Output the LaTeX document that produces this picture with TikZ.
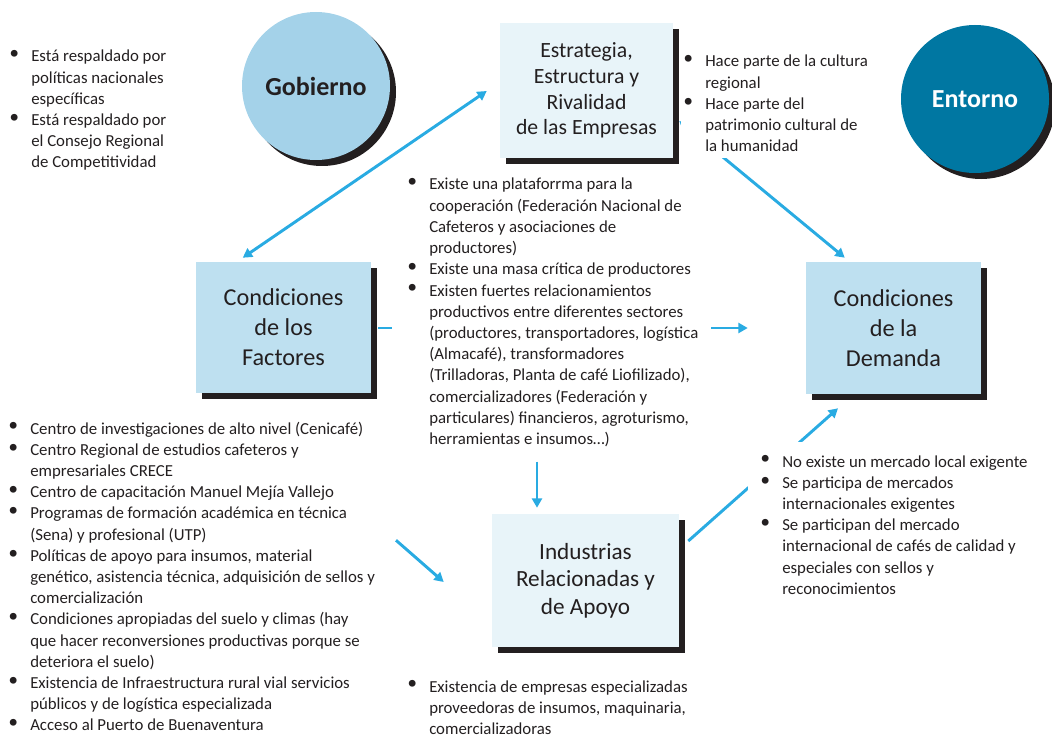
\documentclass[tikz,border=0pt]{standalone}
\usepackage{fontspec}
\setmainfont{Carlito}
\newfontfamily\symfont{DejaVu Sans}
\usetikzlibrary{arrows.meta,calc}
\definecolor{arrc}{RGB}{41,171,226}
\definecolor{boxlight}{RGB}{190,224,240}
\definecolor{boxpale}{RGB}{232,244,249}
\definecolor{gobc}{RGB}{164,210,233}
\definecolor{entc}{RGB}{0,119,162}
\definecolor{shad}{RGB}{35,31,32}
\definecolor{txt}{RGB}{35,31,32}
\newcommand\bul{\raisebox{-0.6pt}{\scalebox{1.4}{\symfont •}}}
\newcommand\BI{\makebox[18pt][l]{\bul}}
\begin{document}
\begin{tikzpicture}[x=0.75pt,y=-0.75pt,
  shadowed/.style={preaction={fill=shad, transform canvas={xshift=4.5pt, yshift=-4.5pt}}},
  bigbox/.style={rectangle, inner sep=0pt, align=center, text=txt, shadowed},
  circ/.style={circle, inner sep=0pt, minimum size=111pt,
    font=\fontsize{19.5}{23}\selectfont\bfseries, shadowed},
  arr/.style={draw=arrc, line width=2.2pt, -{Triangle[length=7pt,width=7.5pt]}},
  arrd/.style={draw=arrc, line width=2.2pt, {Triangle[length=7pt,width=7.5pt]}-{Triangle[length=7pt,width=7.5pt]}},
  txtblock/.style={anchor=base west, inner sep=0pt, text=txt, font=\fontsize{12.6}{15.9}\selectfont}]
\useasboundingbox (0,0) rectangle (1052,738);

% circles
\node[circ, fill=gobc, text=txt] (gob) at (316,86) {Gobierno};
\node[circ, fill=entc, text=white] (ent) at (975,99) {Entorno};

% boxes
\node[bigbox, fill=boxpale, minimum width=129.75pt, minimum height=101.25pt,
  font=\fontsize{16.3}{19.3}\selectfont] (est) at (586.5,90.5)
  {Estrategia,\\Estructura y\\Rivalidad\\de las Empresas};
\node[bigbox, fill=boxlight, minimum width=131.25pt, minimum height=98.25pt,
  font=\fontsize{18.2}{22.5}\selectfont] (fac) at (283.5,327.5)
  {Condiciones\\de los\\Factores};
\node[bigbox, fill=boxlight, minimum width=131.25pt, minimum height=99pt,
  font=\fontsize{18.2}{22.5}\selectfont] (dem) at (893.5,328)
  {Condiciones\\de la\\Demanda};
\node[bigbox, fill=boxpale, minimum width=140.25pt, minimum height=99.75pt,
  font=\fontsize{17.4}{20.6}\selectfont] (ind) at (585.5,580.5)
  {Industrias\\Relacionadas y\\de Apoyo};

% connectors
\draw[arrd] ($(fac.north west)+(47,-4)$) -- ($(est.west)+(-13,0.5)$);
\draw[arrd] ($(est.east)+(6,30.5)$) -- ($(dem.north west)+(39,-4)$);
\draw[arr] ($(fac.east)+(7,0.5)$) -- ($(dem.west)+(-58,0)$);
\draw[arr] ($(ind.north)+(-48.5,-52)$) -- ($(ind.north)+(-48.5,-6)$);
\draw[arr] ($(fac.south)+(112.5,147)$) -- ($(ind.west)+(-48,1.5)$);
\draw[arr] ($(ind.east)+(9,-39.5)$) -- ($(dem.south)+(-55.5,14)$);

% text blocks
\node[txtblock] (ta) at (7,62) {\begin{tabular}[t]{@{}l@{}l@{}}
\BI & Está respaldado por\\
 & políticas nacionales\\
 & específicas\\
\BI & Está respaldado por\\
 & el Consejo Regional\\
 & de Competitividad
\end{tabular}};

\node[txtblock, fill=white] (tb) at (681,67) {\begin{tabular}[t]{@{}l@{}l@{}}
\BI & Hace parte de la cultura\\
 & regional\\
\BI & Hace parte del\\
 & patrimonio cultural de\\
 & la humanidad
\end{tabular}};

\node[txtblock, fill=white, inner xsep=9.75pt, inner ysep=4.5pt] (tc) at (392,190) {\begin{tabular}[t]{@{}l@{}l@{}}
\BI & Existe una plataforrma para la\\
 & cooperación (Federación Nacional de\\
 & Cafeteros y asociaciones de\\
 & productores)\\
\BI & Existe una masa crítica de productores\\
\BI & Existen fuertes relacionamientos\\
 & productivos entre diferentes sectores\\
 & (productores, transportadores, logística\\
 & (Almacafé), transformadores\\
 & (Trilladoras, Planta de café Liofilizado),\\
 & comercializadores (Federación y\\
 & particulares) financieros, agroturismo,\\
 & herramientas e insumos…)
\end{tabular}};

\node[txtblock] (td) at (6,434) {\begin{tabular}[t]{@{}l@{}l@{}}
\BI & Centro de investigaciones de alto nivel (Cenicafé)\\
\BI & Centro Regional de estudios cafeteros y\\
 & empresariales CRECE\\
\BI & Centro de capacitación Manuel Mejía Vallejo\\
\BI & Programas de formación académica en técnica\\
 & (Sena) y profesional (UTP)\\
\BI & Políticas de apoyo para insumos, material\\
 & genético, asistencia técnica, adquisición de sellos y\\
 & comercialización\\
\BI & Condiciones apropiadas del suelo y climas (hay\\
 & que hacer reconversiones productivas porque se\\
 & deteriora el suelo)\\
\BI & Existencia de Infraestructura rural vial servicios\\
 & públicos y de logística especializada\\
\BI & Acceso al Puerto de Buenaventura
\end{tabular}};

\node[txtblock, fill=white, inner sep=7.5pt] (te) at (748,467) {\begin{tabular}[t]{@{}l@{}l@{}}
\BI & No existe un mercado local exigente\\
\BI & Se participa de mercados\\
 & internacionales exigentes\\
\BI & Se participan del mercado\\
 & internacional de cafés de calidad y\\
 & especiales con sellos y\\
 & reconocimientos
\end{tabular}};

\node[txtblock] (tf) at (405,692) {\begin{tabular}[t]{@{}l@{}l@{}}
\BI & Existencia de empresas especializadas\\
 & proveedoras de insumos, maquinaria,\\
 & comercializadoras
\end{tabular}};
\end{tikzpicture}
\end{document}
